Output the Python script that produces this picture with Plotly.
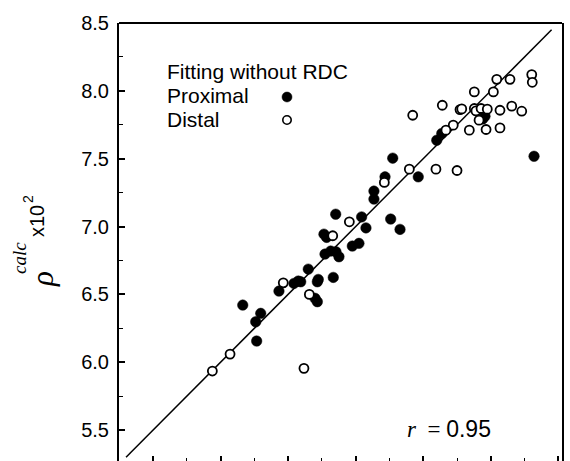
import plotly.graph_objects as go

# Proximal residues (filled): observed vs calculated density, both x10^2
prox_obs = [8.320, 7.957, 7.940, 7.637, 7.600, 7.274, 7.217, 7.463, 7.135, 7.135,
            6.852, 7.044, 7.076, 7.259, 7.328, 6.765, 6.785, 6.975, 7.024, 6.773,
            6.815, 6.854, 6.876, 6.649, 6.432, 6.543, 6.575, 6.593, 6.723, 6.716,
            6.834, 6.699, 6.716, 6.164, 6.297, 6.260, 6.267]
prox_calc = [7.518, 7.813, 7.793, 7.686, 7.636, 7.504, 7.366, 7.366, 7.261, 7.202,
             7.091, 7.071, 6.990, 7.055, 6.979, 6.944, 6.920, 6.856, 6.876, 6.797,
             6.819, 6.814, 6.777, 6.686, 6.524, 6.581, 6.598, 6.593, 6.610, 6.593,
             6.625, 6.471, 6.446, 6.421, 6.360, 6.298, 6.156]

# Distal residues (open)
dist_obs = [8.303, 8.307, 8.044, 8.142, 7.878, 8.019, 7.641, 7.422, 7.772, 7.785,
            7.878, 7.890, 7.928, 7.974, 8.068, 8.155, 8.229, 7.913, 7.722, 7.668,
            7.841, 7.965, 8.068, 7.397, 7.594, 7.750, 7.212, 6.953, 6.830, 6.464,
            6.657, 6.070, 5.939, 6.617]
dist_calc = [8.120, 8.063, 8.085, 8.085, 7.992, 7.992, 7.894, 7.820, 7.862, 7.867,
             7.870, 7.852, 7.870, 7.865, 7.857, 7.887, 7.850, 7.784, 7.747, 7.710,
             7.710, 7.715, 7.727, 7.423, 7.423, 7.413, 7.325, 7.035, 6.932, 6.585,
             6.500, 6.060, 5.935, 5.955]

# Identity line y = x
line_x = [5.30, 8.45]
line_y = [5.30, 8.45]

y_ticks = [5.5, 6.0, 6.5, 7.0, 7.5, 8.0, 8.5]
y_tick_text = ["5.5", "6.0", "6.5", "7.0", "7.5", "8.0", "8.5"]
x_ticks = [5.5, 6.0, 6.5, 7.0, 7.5, 8.0, 8.5]

X_RANGE = [5.248, 8.527]
Y_RANGE = [5.272, 8.5]

W, H = 570, 461
ML, MR, MT, MB = 119, 8, 23, 0
PW, PH = W - ML - MR, H - MT - MB


def px(xp):
    return (xp - ML) / PW


def py(yp):
    return (H - MB - yp) / PH


fig = go.Figure()

fig.add_trace(go.Scatter(x=line_x, y=line_y, mode="lines",
                         line=dict(color="black", width=1.5),
                         hoverinfo="skip", showlegend=False))

fig.add_trace(go.Scatter(x=prox_obs, y=prox_calc, mode="markers",
                         marker=dict(symbol="circle", size=10.5, color="black",
                                     line=dict(color="black", width=0.5)),
                         name="Proximal", showlegend=False))

fig.add_trace(go.Scatter(x=dist_obs, y=dist_calc, mode="markers",
                         marker=dict(symbol="circle", size=9, color="white",
                                     line=dict(color="black", width=1.8)),
                         name="Distal", showlegend=False))

SANS = "Liberation Sans, Arial, sans-serif"
SERIF = "Liberation Serif, Times New Roman, serif"

fig.update_layout(
    width=W, height=H,
    margin=dict(l=ML, r=MR, t=MT, b=MB, pad=0),
    paper_bgcolor="white", plot_bgcolor="white",
    font=dict(family=SANS, color="black", size=20),
    xaxis=dict(range=X_RANGE, showgrid=False, zeroline=False, showline=False,
               tickmode="array", tickvals=x_ticks, showticklabels=False,
               ticks="inside", ticklen=5, tickwidth=1.5, tickcolor="black",
               minor=dict(ticks="inside", ticklen=3, tickwidth=1.2,
                          tickcolor="black", dtick=0.25, tick0=5.25,
                          showgrid=False)),
    yaxis=dict(range=Y_RANGE, showgrid=False, zeroline=False,
               showline=True, linewidth=2, linecolor="black", mirror=True,
               tickmode="array", tickvals=y_ticks, ticktext=y_tick_text,
               ticks="inside", ticklen=6, tickwidth=1.5, tickcolor="black",
               ticklabelstandoff=4,
               tickfont=dict(family=SANS, size=20),
               minor=dict(ticks="inside", ticklen=4, tickwidth=1.2,
                          tickcolor="black", dtick=0.25, tick0=5.25,
                          showgrid=False)),
)

# top frame line
fig.add_shape(type="line", xref="paper", yref="paper", x0=0, x1=1, y0=1, y1=1,
              line=dict(color="black", width=2))

# legend block
for label, yb in [("Fitting without RDC", 72), ("Proximal", 95.5), ("Distal", 119)]:
    fig.add_annotation(xref="paper", yref="paper", x=px(165), y=py(yb),
                       xanchor="left", yanchor="middle", showarrow=False,
                       text=label, font=dict(family=SANS, size=21, color="black"))

fig.add_shape(type="circle", xref="paper", yref="paper",
              xsizemode="pixel", ysizemode="pixel",
              xanchor=px(287), yanchor=py(97), x0=-5, x1=5, y0=-5, y1=5,
              fillcolor="black", line=dict(color="black", width=0.5))
fig.add_shape(type="circle", xref="paper", yref="paper",
              xsizemode="pixel", ysizemode="pixel",
              xanchor=px(287), yanchor=py(120), x0=-4.2, x1=4.2, y0=-4.2, y1=4.2,
              fillcolor="white", line=dict(color="black", width=1.6))

# correlation coefficient
fig.add_annotation(xref="paper", yref="paper", x=px(493), y=py(429),
                   xanchor="right", yanchor="middle", showarrow=False,
                   text=(f"<span style='font-family:{SERIF}'><i>r</i>&nbsp;&nbsp;=&nbsp;</span>"
                         "0.95"),
                   font=dict(family=SANS, size=23, color="black"))

# y-axis title, built from rotated pieces: rho, superscript "calc", "x10", "2"
title_parts = [
    ("<i>ρ</i>", SERIF, 31, 42, 279),
    ("<i>calc</i>", SERIF, 19, 19, 258),
    ("x10", SANS, 20, 37, 221),
    ("2", SANS, 14, 28, 199),
]
for txt, fam, size, cx, cy in title_parts:
    fig.add_annotation(xref="paper", yref="paper", x=px(cx), y=py(cy),
                       xanchor="center", yanchor="middle", showarrow=False,
                       textangle=-90, text=txt,
                       font=dict(family=fam, size=size, color="black"))

fig.write_html("out.html")
